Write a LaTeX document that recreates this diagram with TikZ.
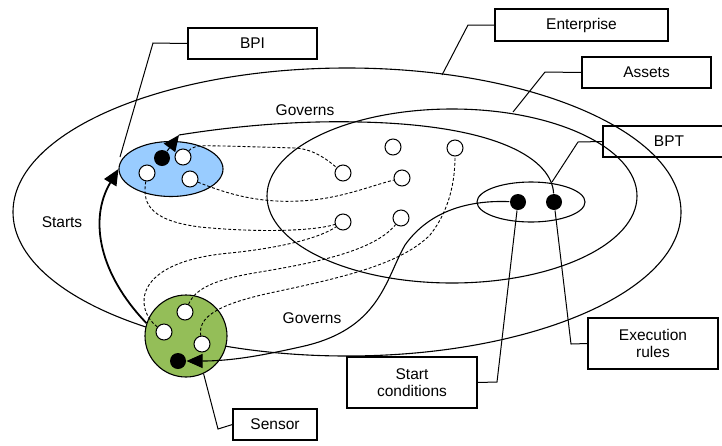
\documentclass[tikz,border=0pt]{standalone}
\usepackage{fontspec}
\setmainfont{Liberation Sans}
\usetikzlibrary{shapes.geometric,arrows.meta}
\definecolor{bpiblue}{RGB}{153,204,255}
\definecolor{sensgreen}{RGB}{148,190,88}
\begin{document}
\begin{tikzpicture}[x=1pt,y=-1pt,line width=1.1pt,
  every node/.style={font=\fontsize{15.5}{18}\selectfont},
  region/.style={ellipse,draw,inner sep=0pt},
  lbox/.style={draw,rectangle,inner sep=0pt,align=center,font=\fontsize{15.5}{17}\selectfont},
  wdot/.style={circle,draw,fill=white,minimum size=16pt,inner sep=0pt,line width=1pt},
  bdot/.style={circle,fill=black,minimum size=16pt,inner sep=0pt},
  dash line/.style={dash pattern=on 3pt off 2pt,line width=0.9pt},
  arr/.style={-{Triangle[length=16pt,width=14pt]}},
  leader/.style={line width=1pt}]
\useasboundingbox (0,0) rectangle (722,445);
% big regions
\node[region,minimum width=668pt,minimum height=288pt] (ent) at (347,212) {};
\node[region,minimum width=370pt,minimum height=174pt] (ass) at (452,196) {};
\node[region,minimum width=108pt,minimum height=40pt] (bpt) at (531,202) {};
\node[region,fill=bpiblue,minimum width=104pt,minimum height=55pt] (bpi) at (171,169) {};
\node[circle,draw,fill=sensgreen,minimum size=82pt,inner sep=0pt] (sensor) at (186,336) {};
% label boxes
\node[lbox,minimum width=129pt,minimum height=31pt] (bpibox) at (252.5,43.5) {BPI};
\node[lbox,minimum width=173pt,minimum height=32pt] (entbox) at (581.5,25) {Enterprise};
\node[lbox,minimum width=129pt,minimum height=31pt] (assbox) at (646.5,72.5) {Assets};
\node[lbox,minimum width=132pt,minimum height=31pt] (bptbox) at (669,141.5) {BPT};
\node[lbox,minimum width=130pt,minimum height=51pt] (scbox) at (412,382.5) {Start\\conditions};
\node[lbox,minimum width=130pt,minimum height=51pt] (erbox) at (653,343.5) {Execution\\rules};
\node[lbox,minimum width=84pt,minimum height=31pt] (sensbox) at (275,424.5) {Sensor};
% texts
\node (gov1) at (305,110) {Governs};
\node (gov2) at (312,318) {Governs};
\node (starts) at (62,222) {Starts};
% dots
\node[bdot] (bptL) at (518,202) {};
\node[bdot] (bptR) at (554,202) {};
\node[bdot] (bpidot) at (162,158) {};
\node[bdot] (sdot) at (178,361) {};
\node[wdot] (bc1) at (147,173) {};
\node[wdot] (bc2) at (183,157) {};
\node[wdot] (bc3) at (190,179) {};
\node[wdot] (sc1) at (185,312) {};
\node[wdot] (sc2) at (164,332) {};
\node[wdot] (sc3) at (202,344) {};
\node[wdot] (a1) at (343,173) {};
\node[wdot] (a2) at (393,147) {};
\node[wdot] (a3) at (455,148) {};
\node[wdot] (a4) at (402,178) {};
\node[wdot] (a5) at (343,222) {};
\node[wdot] (a6) at (401,218) {};
% dashed links
\draw[dash line] (bc2) .. controls (195,144) and (205,146) .. (225,146) -- (295,148) .. controls (315,149) and (330,162) .. (a1);
\draw[dash line] (bc3) .. controls (230,195) and (260,203) .. (300,201) .. controls (340,199) and (370,186) .. (a4);
\draw[dash line] (bc1) .. controls (143,200) and (145,220) .. (200,227) .. controls (250,232) and (310,232) .. (a5);
\draw[dash line] (sc2) .. controls (135,310) and (130,262) .. (230,253) .. controls (280,248) and (320,238) .. (a5);
\draw[dash line] (sc1) .. controls (195,290) and (210,280) .. (260,272) .. controls (320,262) and (375,250) .. (a6);
\draw[dash line] (sc3) .. controls (198,318) and (215,305) .. (270,293) .. controls (340,278) and (400,265) .. (430,235) .. controls (450,210) and (455,180) .. (a3);
% governs arcs
\coordinate (bpiarr) at (179,135);
\draw (bptR) .. controls (552,160) and (500,125) .. (360,122) .. controls (280,120) and (210,130) .. (bpiarr);
\draw[arr] (bpidot) -- (bpiarr);
\draw[arr] (bptL) .. controls (470,200) and (430,210) .. (405,245) .. controls (385,280) and (380,330) .. (300,347) .. controls (260,356) and (230,361) .. (sdot);
% starts
\draw[arr,line width=1.8pt] (sensor.162) .. controls (100,275) and (88,220) .. (bpi.west);
% leaders
\draw[leader] (bpibox.west) -- (153,43) -- (120,157);
\draw[leader] (entbox.west) -- (468,25) -- (442,75);
\draw[leader] (assbox.west) -- (545,72) -- (513,112);
\draw[leader] (bptbox.west) -- (578,142) -- (552,182);
\draw[leader] (scbox.east) -- (497,382) -- (bptL);
\draw[leader] (erbox.west) -- (571,344) -- (bptR);
\draw[leader] (sensbox.west) -- (218,429) -- (sensor.-65);
\end{tikzpicture}
\end{document}
